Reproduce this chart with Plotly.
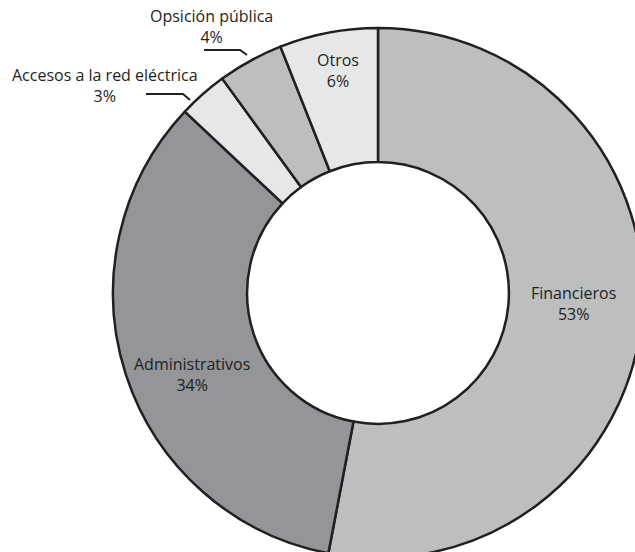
import plotly.graph_objects as go

categories = ["Financieros", "Administrativos", "Accesos a la red eléctrica", "Opsición pública", "Otros"]
values = [53, 34, 3, 4, 6]
colors = ["#bcbec0", "#939598", "#e6e7e8", "#bcbec0", "#e6e7e8"]

ink = "#231f20"
font_family = "Open Sans, Liberation Sans, Arial, sans-serif"

fig = go.Figure(go.Pie(
    labels=categories,
    values=values,
    sort=False,
    direction="clockwise",
    rotation=0,
    hole=0.494,
    marker=dict(colors=colors, line=dict(color=ink, width=2.5)),
    textinfo="none",
    hoverinfo="label+percent",
    showlegend=False,
))

W, H = 660, 575
L, T = 113, 28
pw, ph = 530, 530

def px2paper(px, py):
    return (px - L) / pw, 1 - (py - T) / ph

# label centres (pixels) for each slice
label_pos = [(573, 303), (192, 374), (105, 86), (211, 26), (338, 70)]
for i, (x, y) in enumerate(label_pos):
    xx, yy = px2paper(x, y)
    fig.add_annotation(
        x=xx, y=yy, xref="paper", yref="paper", xanchor="center", yanchor="middle",
        text=f"{categories[i]}<br>{values[i]}%",
        showarrow=False, font=dict(family=font_family, size=16, color=ink),
        align="center",
    )

def seg(points):
    path = ""
    for k, (px, py) in enumerate(points):
        xx, yy = px2paper(px, py)
        path += ("M" if k == 0 else "L") + f" {xx} {yy} "
    return path

for pts in [[(204, 50), (240, 50), (247, 55)], [(146, 94), (183, 94), (190, 100)]]:
    fig.add_shape(type="path", xref="paper", yref="paper", path=seg(pts),
                  line=dict(color=ink, width=2))

fig.update_layout(
    width=W, height=H,
    margin=dict(l=L, r=W - L - pw, t=T, b=H - T - ph),
    paper_bgcolor="white", plot_bgcolor="white",
)

fig.write_html(
    "out.html",
    config={"displayModeBar": False},
    post_script="document.documentElement.style.overflow='hidden';document.body.style.overflow='hidden';document.body.style.margin='0';",
)
